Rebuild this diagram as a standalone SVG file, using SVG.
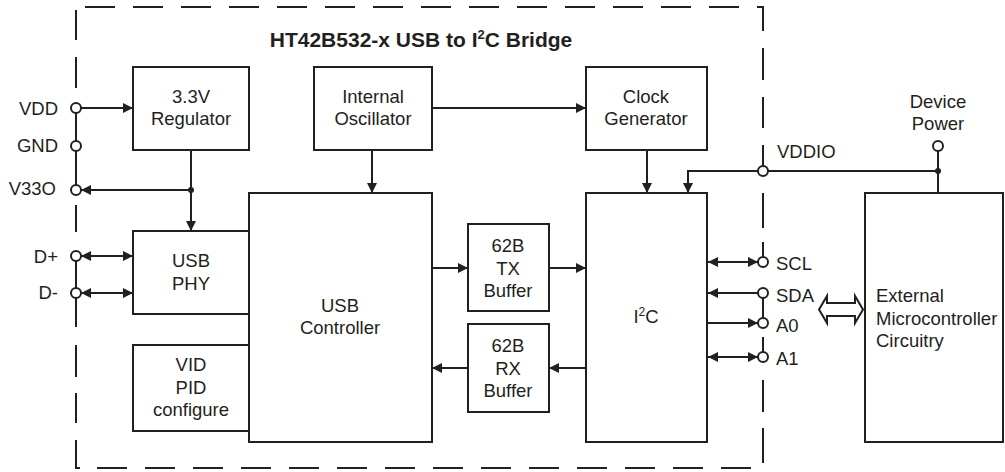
<svg xmlns="http://www.w3.org/2000/svg" width="1005" height="472" viewBox="0 0 1005 472">
<style>
.box{fill:#fff;stroke:#231f20;stroke-width:2}
.ln{fill:none;stroke:#231f20;stroke-width:2}
.dash{fill:none;stroke:#231f20;stroke-width:2;stroke-dasharray:30 18}
.pin{fill:#fff;stroke:#231f20;stroke-width:2}
.dot{fill:#231f20}
text{font-family:"Liberation Sans",Arial,sans-serif;font-size:18.5px;fill:#231f20}
.c{text-anchor:middle}
.e{text-anchor:end}
.title{font-weight:bold;font-size:21px}
</style>
<defs>
<marker id="ah" viewBox="0 0 10 10" refX="10" refY="5" markerWidth="10" markerHeight="10" markerUnits="userSpaceOnUse" orient="auto-start-reverse">
<path d="M0,0 L10,5 L0,10 z" fill="#231f20"/>
</marker>
</defs>

<g id="border">
<path class="dash" d="M85,7 H763 V33"/>
<path class="dash" d="M97,468 H752"/>
<path class="ln" d="M76,10 V40 M76,57 V88 M76,108 V190 M76,205 V232 M76,256 V327 M76,345 V377 M76,393 V423 M76,440 V468 H80"/>
<path class="ln" d="M763,48 V80 M763,97 V128 M763,145 V171 M763,193 V228 M763,242 V262 M763,293 V323 M763,337 V357 M763,380 V412 M763,428 V463"/>
</g>

<text class="title" x="421" y="47" text-anchor="middle">HT42B532-x USB to I<tspan font-size="13" dy="-8">2</tspan><tspan dy="8">C Bridge</tspan></text>

<g id="connectors">
<path class="ln" d="M81,108 H133" marker-end="url(#ah)"/>
<path class="ln" d="M191,150 V231" marker-end="url(#ah)"/>
<path class="ln" d="M191,190 H81" marker-end="url(#ah)"/>
<circle class="dot" cx="191" cy="190" r="3"/>
<path class="ln" d="M81,256 H133" marker-start="url(#ah)" marker-end="url(#ah)"/>
<path class="ln" d="M81,293 H133" marker-start="url(#ah)" marker-end="url(#ah)"/>
<path class="ln" d="M432,108 H586" marker-end="url(#ah)"/>
<path class="ln" d="M372,150 V193" marker-end="url(#ah)"/>
<path class="ln" d="M647,150 V193" marker-end="url(#ah)"/>
<path class="ln" d="M938,171 H688 V193" marker-end="url(#ah)"/>
<path class="ln" d="M938,151 V193"/>
<circle class="dot" cx="938" cy="171" r="3"/>
<path class="ln" d="M432,268 H468" marker-end="url(#ah)"/>
<path class="ln" d="M549,268 H586" marker-end="url(#ah)"/>
<path class="ln" d="M586,368 H549" marker-end="url(#ah)"/>
<path class="ln" d="M468,368 H432" marker-end="url(#ah)"/>
<path class="ln" d="M708,262 H758" marker-start="url(#ah)" marker-end="url(#ah)"/>
<path class="ln" d="M758,293 H708" marker-end="url(#ah)"/>
<path class="ln" d="M707,323 H758" marker-end="url(#ah)"/>
<path class="ln" d="M708,357 H758" marker-start="url(#ah)" marker-end="url(#ah)"/>
<path class="ln" d="M819,309.5 L827,296 V303 H855 V296 L863,309.5 L855,323 V316 H827 V323 Z" fill="#fff"/>
</g>

<g id="pins">
<circle class="pin" cx="76" cy="108" r="5"/>
<circle class="pin" cx="76" cy="146" r="5"/>
<circle class="pin" cx="76" cy="190" r="5"/>
<circle class="pin" cx="76" cy="256" r="5"/>
<circle class="pin" cx="76" cy="293" r="5"/>
<circle class="pin" cx="763" cy="171" r="5"/>
<circle class="pin" cx="938" cy="146" r="5"/>
<circle class="pin" cx="763" cy="262" r="5"/>
<circle class="pin" cx="763" cy="293" r="5"/>
<circle class="pin" cx="763" cy="323" r="5"/>
<circle class="pin" cx="763" cy="357" r="5"/>
<text class="e" x="58" y="115">VDD</text>
<text class="e" x="58" y="152">GND</text>
<text class="e" x="56" y="195">V33O</text>
<text class="e" x="58" y="263">D+</text>
<text class="e" x="58" y="299">D-</text>
<text x="777" y="158">VDDIO</text>
<text class="c" x="938" y="108">Device</text>
<text class="c" x="938" y="130">Power</text>
<text x="776" y="270">SCL</text>
<text x="776" y="302">SDA</text>
<text x="776" y="332">A0</text>
<text x="776" y="365">A1</text>
</g>

<g id="regulator">
<rect class="box" x="133" y="67" width="116" height="83"/>
<text class="c" x="191" y="103">3.3V</text>
<text class="c" x="191" y="125">Regulator</text>
</g>
<g id="oscillator">
<rect class="box" x="314" y="67" width="118" height="83"/>
<text class="c" x="373" y="103">Internal</text>
<text class="c" x="373" y="125">Oscillator</text>
</g>
<g id="clock">
<rect class="box" x="586" y="67" width="121" height="83"/>
<text class="c" x="646" y="103">Clock</text>
<text class="c" x="646" y="125">Generator</text>
</g>
<g id="usbphy">
<rect class="box" x="133" y="231" width="116" height="83"/>
<text class="c" x="191" y="267">USB</text>
<text class="c" x="191" y="290">PHY</text>
</g>
<g id="vidpid">
<rect class="box" x="133" y="345" width="116" height="86"/>
<text class="c" x="191" y="371">VID</text>
<text class="c" x="191" y="394">PID</text>
<text class="c" x="191" y="416">configure</text>
</g>
<g id="usbctrl">
<rect class="box" x="249" y="193" width="183" height="249"/>
<text class="c" x="340" y="312">USB</text>
<text class="c" x="340" y="334">Controller</text>
</g>
<g id="txbuf">
<rect class="box" x="468" y="224" width="81" height="87"/>
<text class="c" x="508" y="252">62B</text>
<text class="c" x="508" y="275">TX</text>
<text class="c" x="508" y="297">Buffer</text>
</g>
<g id="rxbuf">
<rect class="box" x="468" y="324" width="81" height="88"/>
<text class="c" x="508" y="352">62B</text>
<text class="c" x="508" y="375">RX</text>
<text class="c" x="508" y="397">Buffer</text>
</g>
<g id="i2c">
<rect class="box" x="586" y="193" width="121" height="249"/>
<text class="c" x="646" y="323">I<tspan font-size="12" dy="-7">2</tspan><tspan dy="7">C</tspan></text>
</g>
<g id="external">
<rect class="box" x="865" y="193" width="138" height="249"/>
<text x="876" y="302">External</text>
<text x="876" y="325">Microcontroller</text>
<text x="876" y="347">Circuitry</text>
</g>
</svg>
